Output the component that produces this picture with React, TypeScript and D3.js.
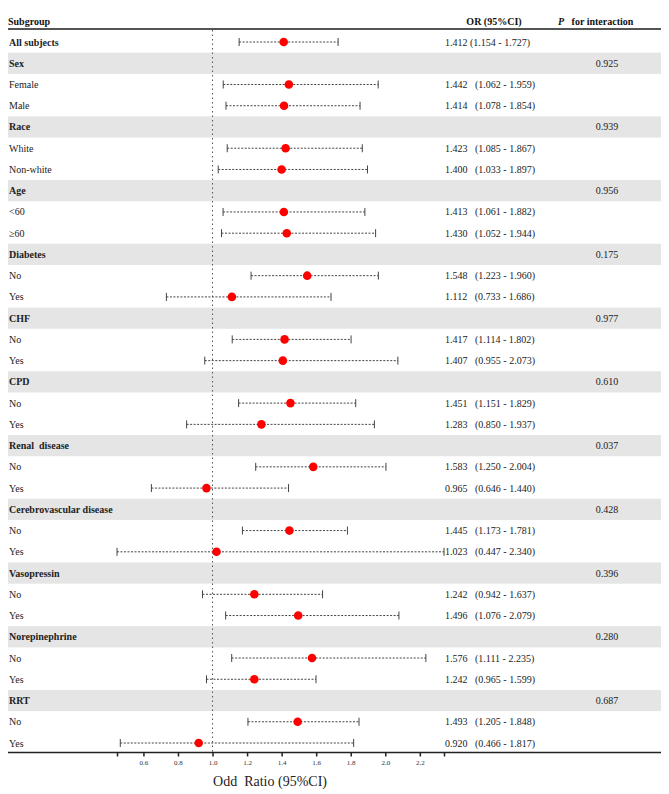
import React, { useEffect, useRef } from "react";
import * as d3 from "d3";

// rows, top to bottom
const subgroups = [
  "All subjects",
  "Sex", "Female", "Male",
  "Race", "White", "Non-white",
  "Age", "<60", "≥60",
  "Diabetes", "No", "Yes",
  "CHF", "No", "Yes",
  "CPD", "No", "Yes",
  "Renal  disease", "No", "Yes",
  "Cerebrovascular disease", "No", "Yes",
  "Vasopressin", "No", "Yes",
  "Norepinephrine", "No", "Yes",
  "RRT", "No", "Yes",
];
const boldRows = [0, 1, 4, 7, 10, 13, 16, 19, 22, 25, 28, 31];

const orValues = [
  1.412,
  null, 1.442, 1.414,
  null, 1.423, 1.4,
  null, 1.413, 1.43,
  null, 1.548, 1.112,
  null, 1.417, 1.407,
  null, 1.451, 1.283,
  null, 1.583, 0.965,
  null, 1.445, 1.023,
  null, 1.242, 1.496,
  null, 1.576, 1.242,
  null, 1.493, 0.92,
];
const lowerCI = [
  1.154,
  null, 1.062, 1.078,
  null, 1.085, 1.033,
  null, 1.061, 1.052,
  null, 1.223, 0.733,
  null, 1.114, 0.955,
  null, 1.151, 0.85,
  null, 1.25, 0.646,
  null, 1.173, 0.447,
  null, 0.942, 1.076,
  null, 1.111, 0.965,
  null, 1.205, 0.466,
];
const upperCI = [
  1.727,
  null, 1.959, 1.854,
  null, 1.867, 1.897,
  null, 1.882, 1.944,
  null, 1.96, 1.686,
  null, 1.802, 2.073,
  null, 1.829, 1.937,
  null, 2.004, 1.44,
  null, 1.781, 2.34,
  null, 1.637, 2.079,
  null, 2.235, 1.599,
  null, 1.848, 1.817,
];
const pInteraction = [
  null,
  "0.925", null, null,
  "0.939", null, null,
  "0.956", null, null,
  "0.175", null, null,
  "0.977", null, null,
  "0.610", null, null,
  "0.037", null, null,
  "0.428", null, null,
  "0.396", null, null,
  "0.280", null, null,
  "0.687", null, null,
];
const tickValues = [0.6, 0.8, 1.0, 1.2, 1.4, 1.6, 1.8, 2.0, 2.2];

const W = 669;
const H = 794;
const left = 8;
const right = 661;
const font = "'Liberation Serif', 'Times New Roman', serif";

export default function App() {
  const axisRef = useRef<SVGGElement>(null);

  const xMin = d3.min(lowerCI.filter((d) => d != null) as number[])!;
  const xMax = d3.max(upperCI.filter((d) => d != null) as number[])!;
  const x = d3.scaleLinear().domain([xMin, xMax]).range([117, 444]);

  const y = d3
    .scalePoint<number>()
    .domain(d3.range(subgroups.length))
    .range([42, 743]);
  const rowH = y.step();
  const headerY = 29;
  const axisY = 752.5;

  useEffect(() => {
    const g = d3.select(axisRef.current);
    g.selectAll("*").remove();
    const axis = d3
      .axisBottom(x)
      .tickValues([xMin, ...tickValues, xMax])
      .tickFormat((d) => (tickValues.includes(d as number) ? d3.format(".1f")(d as number) : ""))
      .tickSize(4)
      .tickSizeOuter(0)
      .tickPadding(4);
    g.call(axis);
    g.select(".domain").remove();
    g.selectAll(".tick line").attr("stroke", "#222").attr("stroke-width", 1.5);
    g.selectAll(".tick text")
      .attr("font-family", font)
      .attr("font-size", 7)
      .attr("fill", "#333");
  }, []);

  return (
    <svg width={W} height={H} style={{ display: "block", position: "absolute", left: 0, top: 0 }}>
      {/* shaded group bands */}
      {subgroups.map((s, i) =>
        boldRows.includes(i) && i > 0 ? (
          <rect key={"b" + i} x={left} y={y(i)! - rowH / 2} width={right - left} height={rowH} fill="#e5e5e5" />
        ) : null
      )}

      {/* header */}
      <text x={left} y={21} dy="0.35em" fontFamily={font} fontSize={10} fontWeight="bold" fill="#111">
        Subgroup
      </text>
      <text x={494} y={21} dy="0.35em" textAnchor="middle" fontFamily={font} fontSize={10} fontWeight="bold" fill="#111">
        OR (95%CI)
      </text>
      <text x={558} y={21} dy="0.35em" fontFamily={font} fontSize={10} fontWeight="bold" fill="#111" style={{ whiteSpace: "pre" }}>
        <tspan fontStyle="italic">P</tspan>
        <tspan>{"   for interaction"}</tspan>
      </text>
      <line x1={left} x2={right} y1={headerY} y2={headerY} stroke="#555" strokeWidth={2} />

      {/* reference line at OR = 1 */}
      <line x1={x(1)} x2={x(1)} y1={headerY + 1} y2={axisY} stroke="#555" strokeWidth={1} strokeDasharray="1.5,3" />

      {/* rows */}
      {subgroups.map((s, i) => {
        const cy = y(i)!;
        const bold = boldRows.includes(i);
        const or = orValues[i];
        const lo = lowerCI[i];
        const hi = upperCI[i];
        const p = pInteraction[i];
        return (
          <g key={i}>
            <text x={left + 1} y={cy} dy="0.35em" fontFamily={font} fontSize={10} fontWeight={bold ? "bold" : "normal"} fill="#222" style={{ whiteSpace: "pre" }}>
              {s}
            </text>
            {or != null && lo != null && hi != null ? (
              <>
                <line x1={x(lo)} x2={x(hi)} y1={cy} y2={cy} stroke="#444" strokeWidth={1} strokeDasharray="2,1.5" />
                <line x1={x(lo)} x2={x(lo)} y1={cy - 4} y2={cy + 4} stroke="#444" strokeWidth={1} />
                <line x1={x(hi)} x2={x(hi)} y1={cy - 4} y2={cy + 4} stroke="#444" strokeWidth={1} />
                <circle cx={x(or)} cy={cy} r={4.3} fill="#ff0000" />
                <text x={445} y={cy} dy="0.35em" fontFamily={font} fontSize={10} fill="#222" style={{ whiteSpace: "pre" }}>
                  {or.toFixed(3) + (i === 0 ? " " : "   ") + "(" + lo.toFixed(3) + " - " + hi.toFixed(3) + ")"}
                </text>
              </>
            ) : null}
            {p != null ? (
              <text x={607} y={cy} dy="0.35em" textAnchor="middle" fontFamily={font} fontSize={10} fill="#222">
                {p}
              </text>
            ) : null}
          </g>
        );
      })}

      {/* bottom axis */}
      <line x1={left} x2={right} y1={axisY} y2={axisY} stroke="#222" strokeWidth={1.3} />
      <g ref={axisRef} transform={`translate(0,${axisY})`} />
      <text x={270} y={781} dy="0.35em" textAnchor="middle" fontFamily={font} fontSize={14} fill="#222" style={{ whiteSpace: "pre" }}>
        {"Odd  Ratio (95%CI)"}
      </text>
    </svg>
  );
}
